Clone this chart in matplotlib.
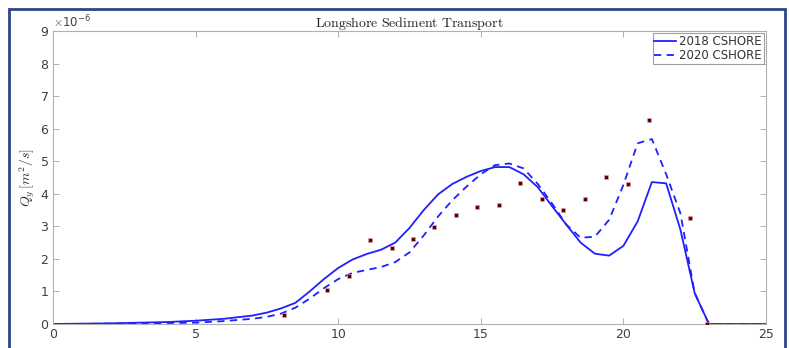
import matplotlib.pyplot as plt
import matplotlib.patches as mpatches
from matplotlib.ticker import ScalarFormatter
import numpy as np

plt.rcParams['mathtext.fontset'] = 'cm'

# model runs (units of 1e-6 m^2/s)
x_2018 = [0, 1, 2, 3, 4, 5, 6, 7, 7.5, 8, 8.5, 9, 9.5, 10, 10.5, 11, 11.5, 12,
          12.5, 13, 13.5, 14, 14.5, 15, 15.5, 16, 16.5, 17, 17.5, 18, 18.5, 19,
          19.5, 20, 20.5, 21, 21.5, 22, 22.5, 23, 23.5, 24, 25]
q_2018 = [0, 0.01, 0.02, 0.04, 0.06, 0.1, 0.16, 0.26, 0.35, 0.48, 0.65, 1.0,
          1.38, 1.72, 1.98, 2.15, 2.28, 2.5, 2.95, 3.5, 3.98, 4.3, 4.52, 4.7,
          4.82, 4.82, 4.6, 4.2, 3.62, 3.05, 2.5, 2.16, 2.1, 2.4, 3.15, 4.36,
          4.32, 2.9, 0.95, 0, 0, 0, 0]

x_2020 = [0, 1, 2, 3, 4, 5, 6, 7, 7.5, 8, 8.5, 9, 9.5, 10, 10.5, 11, 11.5, 12,
          12.5, 13, 13.5, 14, 14.5, 15, 15.5, 16, 16.5, 17, 17.5, 18, 18.5, 19,
          19.5, 20, 20.5, 21, 21.5, 22, 22.5, 23, 23.5, 24, 25]
q_2020 = [0, 0.0, 0.01, 0.02, 0.03, 0.04, 0.09, 0.16, 0.22, 0.32, 0.5, 0.78,
          1.1, 1.38, 1.57, 1.66, 1.75, 1.9, 2.2, 2.72, 3.3, 3.8, 4.22, 4.6,
          4.88, 4.93, 4.78, 4.3, 3.7, 3.05, 2.65, 2.68, 3.2, 4.27, 5.55, 5.68,
          4.6, 3.4, 0.95, 0, 0, 0, 0]

# measured points
x_obs = [8.1, 9.62, 10.38, 11.13, 11.87, 12.62, 13.37, 14.13, 14.88, 15.63,
         16.38, 17.13, 17.9, 18.64, 19.39, 20.15, 20.89, 22.32, 22.92]
q_obs = [0.27, 1.03, 1.48, 2.59, 2.33, 2.61, 2.99, 3.35, 3.58, 3.64, 4.32,
         3.84, 3.5, 3.84, 4.52, 4.3, 6.27, 3.27, 0.0]

scale = 1e-6

fig = plt.figure(figsize=(7.89, 3.48), dpi=100)
ax = fig.add_axes([0.0672, 0.069, 0.9036, 0.8419])

ax.plot(x_obs, np.array(q_obs) * scale, 's', ms=2.6, color='#5a0000',
        mec='#e8a8a8', mew=0.4, zorder=3)
ax.plot(x_2018, np.array(q_2018) * scale, '-', color='#1f1fff', lw=1.3,
        label='2018 CSHORE')
ax.plot(x_2020, np.array(q_2020) * scale, '--', color='#1f1fff', lw=1.3,
        dashes=(4, 3), label='2020 CSHORE')

ax.set_xlim(0, 25)
ax.set_ylim(0, 9e-6)
ax.set_xticks([0, 5, 10, 15, 20, 25])
ax.set_yticks(np.arange(0, 10) * scale)
fmt = ScalarFormatter(useMathText=True)
fmt.set_powerlimits((0, 0))
ax.yaxis.set_major_formatter(fmt)
ax.yaxis.get_offset_text().set_fontsize(8.5)
ax.yaxis.get_offset_text().set_color('#404040')

ax.tick_params(direction='in', length=4, width=0.7, colors='#404040',
               labelsize=9, top=True, right=True, pad=3)
ax.tick_params(which='both', color='#b0b0b0')
for s in ax.spines.values():
    s.set_color('#b0b0b0')
    s.set_linewidth(0.8)

ax.set_title(r'$\mathrm{Longshore\ Sediment\ Transport}$', fontsize=10,
             pad=3, color='#222222')
ax.set_ylabel(r'$Q_y\,[m^2/s]$', fontsize=10, color='#333333', labelpad=2)
ax.set_xlabel(r'$x[m]$', fontsize=9, color='#333333', labelpad=5)

leg = ax.legend(loc='upper right', fontsize=8.5, handlelength=1.8,
                borderpad=0.15, labelspacing=0.1, handletextpad=0.3,
                borderaxespad=0.2, fancybox=False, framealpha=1)
leg.get_frame().set_edgecolor('#a0a0a0')
leg.get_frame().set_linewidth(0.8)
for t in leg.get_texts():
    t.set_color('#333333')

# outer window frame
frame = mpatches.Rectangle((9 / 789, -0.05), (785 - 9) / 789, 1.05 - 9 / 348,
                           transform=fig.transFigure, fill=False,
                           edgecolor='#2f4685', lw=2, zorder=10)
fig.patches.append(frame)

fig.savefig('out.png', dpi=100)
